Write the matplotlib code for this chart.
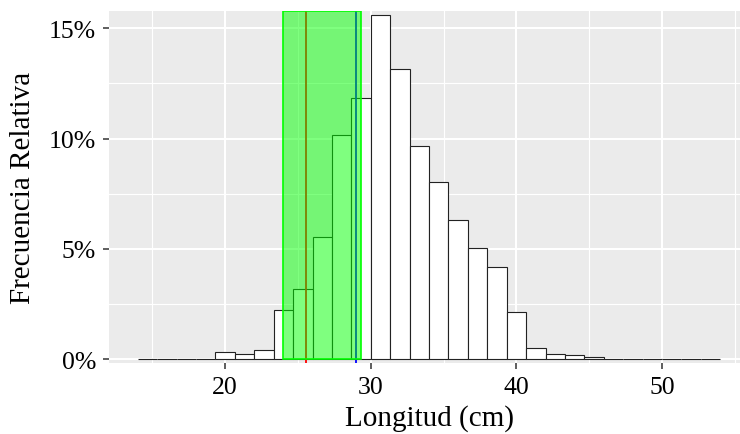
import numpy as np
import matplotlib
matplotlib.use("Agg")
import matplotlib.pyplot as plt
from matplotlib.ticker import FuncFormatter, MultipleLocator

# ---- data ----
bin_min = 14.0
bin_max = 54.0
n_bins = 30
freq_pct = [0.0, 0.0, 0.0, 0.0, 0.33, 0.24, 0.42, 2.23, 3.20, 5.53,
            10.15, 11.84, 15.59, 13.14, 9.66, 8.03, 6.33, 5.03, 4.17, 2.12,
            0.51, 0.26, 0.18, 0.08, 0.0, 0.03, 0.0, 0.0, 0.0, 0.0]
range_low, range_high = 24.0, 29.32
line_red = 25.54
line_blue = 29.0
x_ticks = [20, 30, 40, 50]
y_ticks = [0, 5, 10, 15]
x_label = "Longitud (cm)"
y_label = "Frecuencia Relativa"

plt.rcParams['font.family'] = ['Liberation Serif', 'DejaVu Serif']

fig = plt.figure(figsize=(7.4, 4.35), dpi=100)
ax = fig.add_axes([108.7 / 740, 71 / 435, (749.4 - 108.7) / 740, (364 - 11.7) / 435])
ax.set_facecolor('#EBEBEB')

edges = np.linspace(bin_min, bin_max, n_bins + 1)
width = edges[1] - edges[0]
ax.bar(edges[:-1], freq_pct, width=width, align='edge', color='white',
       edgecolor='#222222', linewidth=0.8, zorder=2)

ax.axvline(line_red, color='red', linewidth=1.3, zorder=3)
ax.axvline(line_blue, color='blue', linewidth=1.3, zorder=3)
ax.axvspan(range_low, range_high, ymin=(0 - (-0.17)) / (15.80 + 0.17), ymax=1,
           facecolor=(0, 1, 0, 0.5), edgecolor=(0, 1, 0, 1), linewidth=1.2, zorder=4)

ax.set_xlim(12, 56)
ax.set_ylim(-0.17, 15.80)

ax.set_xticks(x_ticks)
ax.set_yticks(y_ticks)
ax.xaxis.set_minor_locator(MultipleLocator(5))
ax.yaxis.set_minor_locator(MultipleLocator(2.5))
ax.yaxis.set_major_formatter(FuncFormatter(lambda v, p: f"{v:.0f}%"))

ax.grid(which='major', color='white', linewidth=1.5, zorder=0)
ax.grid(which='minor', color='white', linewidth=0.8, zorder=0)
ax.set_axisbelow(True)

for s in ax.spines.values():
    s.set_visible(False)

ax.tick_params(which='major', length=4.5, width=1.1, color='#333333',
               labelsize=18.5, labelcolor='black')
ax.tick_params(axis='x', which='major', pad=5)
ax.tick_params(axis='y', which='major', pad=4.5)
ax.tick_params(which='minor', length=0)

ax.set_xlabel(x_label, fontsize=21, color='black', labelpad=4)
ax.set_ylabel(y_label, fontsize=21, color='black', labelpad=9)

fig.savefig("out.png", dpi=100)
